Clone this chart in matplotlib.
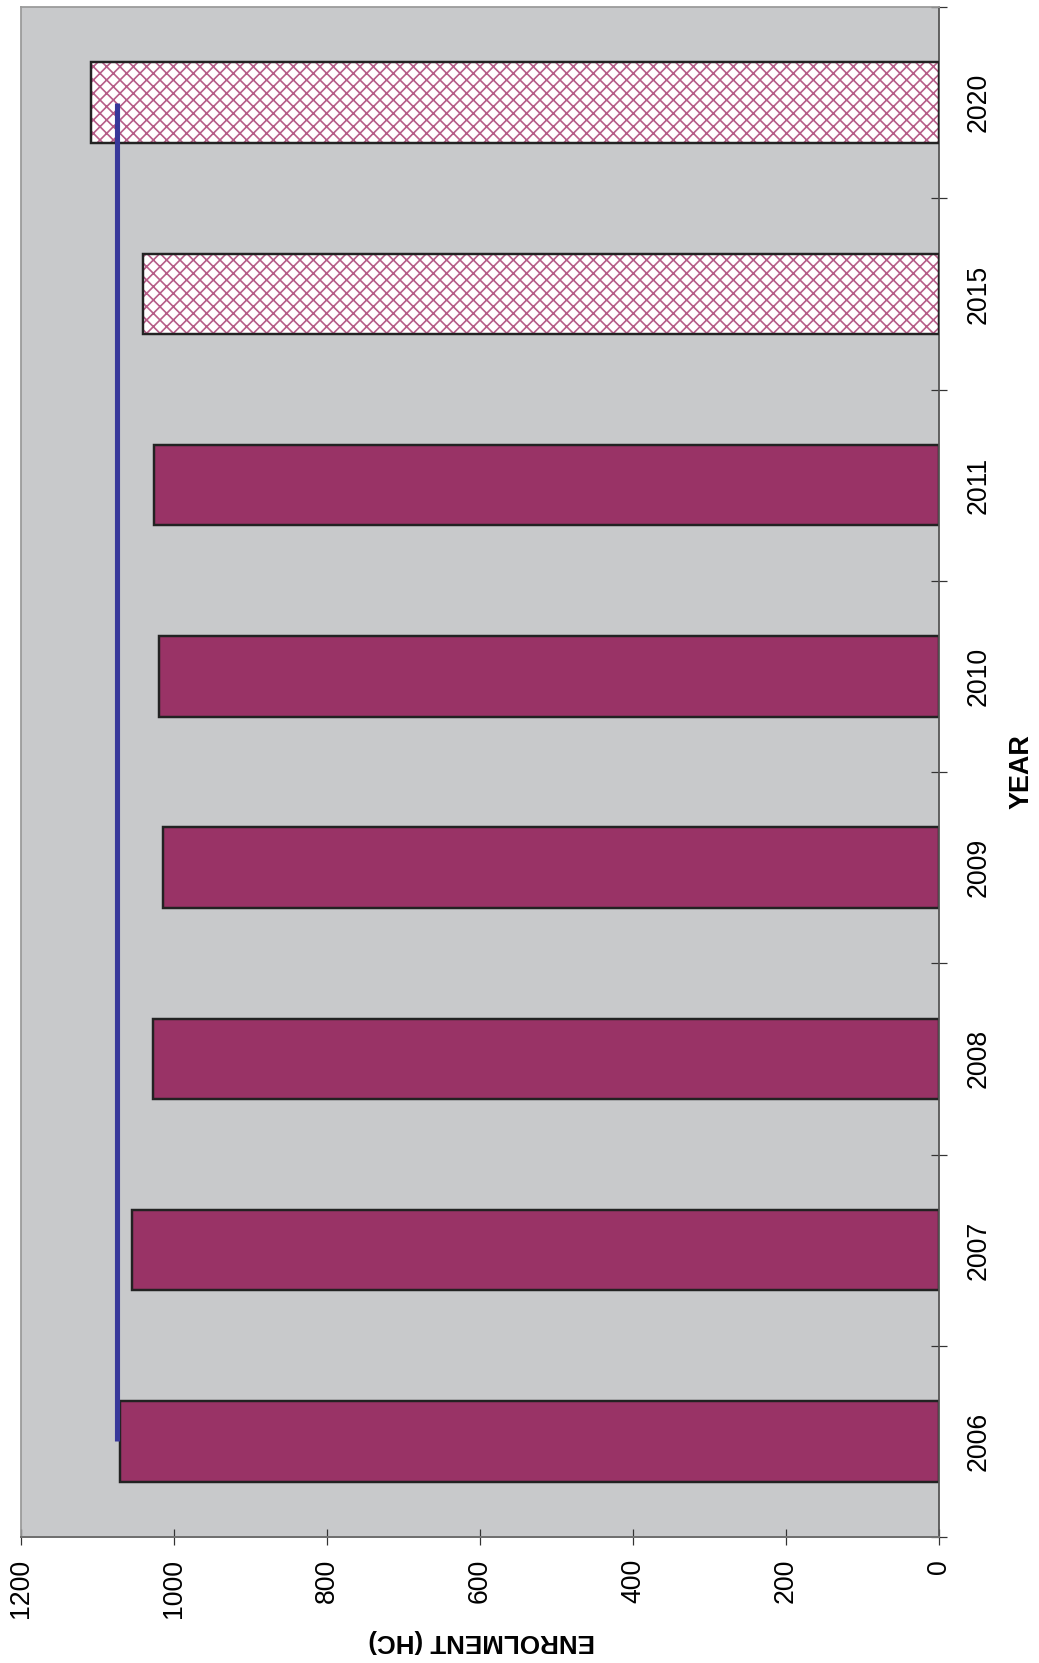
import numpy as np
import matplotlib.pyplot as plt

# enrolment per year, the last two are projections (hatched)
years = ['2006', '2007', '2008', '2009', '2010', '2011', '2015', '2020']
enrolment = [1070, 1055, 1028, 1014, 1019, 1026, 1040, 1108]
projected = [False, False, False, False, False, False, True, True]
target = 1075

plt.rcParams['font.family'] = ['Liberation Sans', 'DejaVu Sans']
plt.rcParams['hatch.linewidth'] = 1.5

DPI = 80
fig = plt.figure(figsize=(1039 / DPI, 1663 / DPI), dpi=DPI)
ax = fig.add_axes([21 / 1039, 126 / 1663, 918 / 1039, 1530 / 1663])
ax.set_facecolor('#c8c9cb')

y = np.arange(len(years))
vals = np.array(enrolment)
proj = np.array(projected)

ax.barh(y[~proj], vals[~proj], height=0.42, color='#993366',
        edgecolor='#222222', linewidth=2.2, zorder=2)
ax.barh(y[proj], vals[proj], height=0.42, color='white',
        edgecolor='#b65d88', hatch='xx', linewidth=0, zorder=2)
ax.barh(y[proj], vals[proj], height=0.42, fill=False,
        edgecolor='#222222', linewidth=2.2, zorder=3)

ax.plot(np.full(len(y), target), y, color='#38389a', lw=4.6,
        solid_capstyle='butt', zorder=4)

ax.set_xlim(1200, 0)
ax.set_ylim(-0.5, len(years) - 0.5)

# value axis (bottom)
ax.set_xticks(np.arange(0, 1201, 200))
ax.tick_params(axis='x', direction='inout', length=14.4, width=1.1,
               color='#333333', pad=12.6, labelsize=24, labelrotation=90)

# year axis (right)
ax.yaxis.tick_right()
ax.set_yticks(np.arange(len(years) + 1) - 0.5)
ax.set_yticklabels([])
ax.set_yticks(y, labels=years, minor=True)
ax.tick_params(axis='y', which='major', direction='inout', length=14.4,
               width=1.1, color='#333333', right=True, left=False)
ax.tick_params(axis='y', which='minor', length=0, pad=24.3, labelsize=24,
               labelrotation=90, right=True, left=False,
               labelright=True, labelleft=False)
for lab in ax.get_yticklabels(minor=True):
    lab.set_verticalalignment('center')

ax.yaxis.set_label_position('right')
ax.set_ylabel('YEAR', fontsize=24.3, fontweight='bold', rotation=90)
ax.yaxis.label.set_verticalalignment('center')
ax.yaxis.label.set_horizontalalignment('center')
ax.yaxis.set_label_coords(1.0904, 0.5)

ax.set_xlabel('ENROLMENT (HC)', fontsize=23.4, fontweight='bold', rotation=180)
ax.xaxis.label.set_verticalalignment('center')
ax.xaxis.label.set_horizontalalignment('center')
ax.xaxis.set_label_coords(0.502, -0.068)

for s in ['left', 'top']:
    ax.spines[s].set_color('#9a9a9a')
    ax.spines[s].set_linewidth(1.6)
ax.spines['right'].set_color('#555555')
ax.spines['right'].set_linewidth(1.6)
ax.spines['bottom'].set_color('#707070')
ax.spines['bottom'].set_linewidth(1.8)

fig.savefig('out.png', dpi=DPI)
